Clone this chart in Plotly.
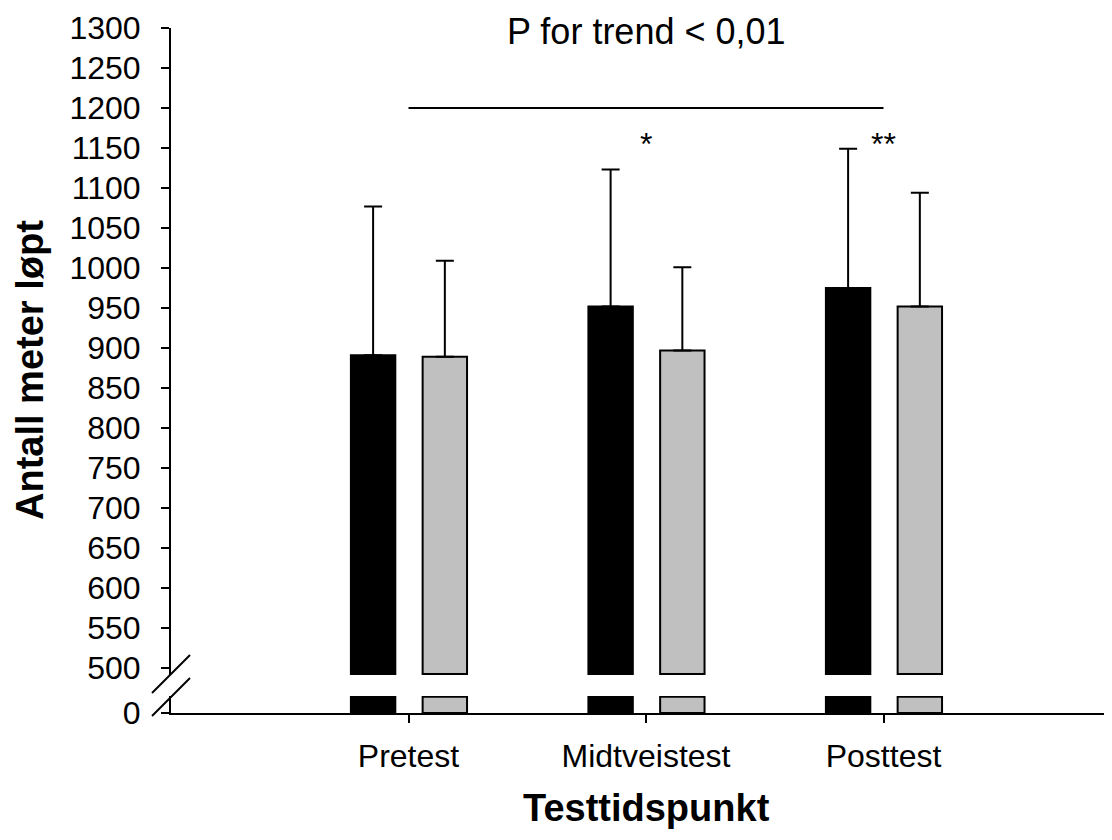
import plotly.graph_objects as go

# ---- data ----
categories = ["Pretest", "Midtveistest", "Posttest"]
group_a_mean = [891, 952, 975]      # black bars
group_a_sd = [186, 171, 174]
group_b_mean = [889, 897, 952]      # grey bars
group_b_sd = [120, 104, 142]
y_ticks_upper = list(range(500, 1301, 50))
trend_text = "P for trend < 0,01"
sig_marks = ["", "*", "**"]
trend_line_y = 1200
break_stub = 20

FONT = "Liberation Sans, Arial, sans-serif"
x_pos = [i + 1 for i in range(len(categories))]

OFF = 8  # page body margin
W, H = 1112 - OFF, 840 - OFF
L, R, T = 171 - OFF, 0, 28 - OFF
AX_Y = 713 - OFF
B = H - AX_Y
plot_h = AX_Y - T
plot_w = W - L
upper_dom0 = (713 - 675) / plot_h
lower_dom1 = (713 - 696) / plot_h

bar_w = 0.187
off_a = -0.149 - bar_w / 2
off_b = 0.153 - bar_w / 2

fig = go.Figure()

# upper (broken) part of bars
fig.add_trace(go.Bar(x=x_pos, y=[m - 492.5 for m in group_a_mean], base=492.5,
                     width=bar_w, offset=off_a, yaxis="y2",
                     marker=dict(color="black", line=dict(color="black", width=2)),
                     error_y=dict(type="data", array=group_a_sd, arrayminus=[0] * 3,
                                  symmetric=False, color="black", thickness=2, width=9),
                     showlegend=False))
fig.add_trace(go.Bar(x=x_pos, y=[m - 492.5 for m in group_b_mean], base=492.5,
                     width=bar_w, offset=off_b, yaxis="y2",
                     marker=dict(color="#c0c0c0", line=dict(color="black", width=2)),
                     error_y=dict(type="data", array=group_b_sd, arrayminus=[0] * 3,
                                  symmetric=False, color="black", thickness=2, width=9),
                     showlegend=False))
# lower stubs
fig.add_trace(go.Bar(x=x_pos, y=[break_stub] * 3, width=bar_w, offset=off_a, yaxis="y",
                     marker=dict(color="black", line=dict(color="black", width=2)),
                     showlegend=False))
fig.add_trace(go.Bar(x=x_pos, y=[break_stub] * 3, width=bar_w, offset=off_b, yaxis="y",
                     marker=dict(color="#c0c0c0", line=dict(color="black", width=2)),
                     showlegend=False))

axis_common = dict(showgrid=False, zeroline=False, showline=True, linecolor="black",
                   linewidth=2, ticks="outside", ticklen=8, tickwidth=2, tickcolor="black",
                   tickfont=dict(family=FONT, size=32, color="black"))

fig.update_layout(
    width=W, height=H, margin=dict(l=L, r=R, t=T, b=B),
    paper_bgcolor="white", plot_bgcolor="white",
    barmode="overlay", showlegend=False,
    xaxis=dict(range=[0, plot_w / 237.5], tickvals=x_pos, ticktext=categories,
               anchor="y", ticklabelstandoff=6, **axis_common),
    yaxis=dict(domain=[0, lower_dom1], range=[0, 21], tickvals=[0], ticktext=["0"],
               anchor="x", ticklabelstandoff=14, **axis_common),
    yaxis2=dict(domain=[upper_dom0, 1], range=[491.25, 1300], tickvals=y_ticks_upper,
                anchor="x", ticklabelstandoff=14, **axis_common),
)

# trend line
fig.add_shape(type="line", xref="x", yref="y2", x0=x_pos[0], x1=x_pos[-1],
              y0=trend_line_y, y1=trend_line_y, line=dict(color="black", width=2))

# axis break marks
for y0, y1 in [(713 - 693, 713 - 655), (713 - 716, 713 - 678)]:
    fig.add_shape(type="line", xref="paper", yref="paper",
                  x0=-19 / plot_w, x1=19 / plot_w, y0=y0 / plot_h, y1=y1 / plot_h,
                  line=dict(color="black", width=2))

# annotations
fig.add_annotation(text=trend_text, xref="x", yref="paper", x=x_pos[1],
                   y=(713 - 31) / plot_h, xanchor="center", yanchor="middle",
                   showarrow=False, font=dict(family=FONT, size=36, color="black"))
for xp, s in zip(x_pos, sig_marks):
    if s:
        fig.add_annotation(text=s, xref="x", yref="y2", x=xp, y=1155,
                           xanchor="center", yanchor="middle",
                           showarrow=False, font=dict(family=FONT, size=32, color="black"))
fig.add_annotation(text="<b>Testtidspunkt</b>", xref="x", yref="paper", x=x_pos[1],
                   y=(713 - 808) / plot_h, xanchor="center", yanchor="middle",
                   showarrow=False, font=dict(family=FONT, size=38, color="black"))
fig.add_annotation(text="<b>Antall meter løpt</b>", xref="paper", yref="paper",
                   x=(30 - 171) / plot_w, y=(713 - 370) / plot_h, textangle=-90,
                   xanchor="center", yanchor="middle",
                   showarrow=False, font=dict(family=FONT, size=38, color="black"))

fig.write_html("out.html")
